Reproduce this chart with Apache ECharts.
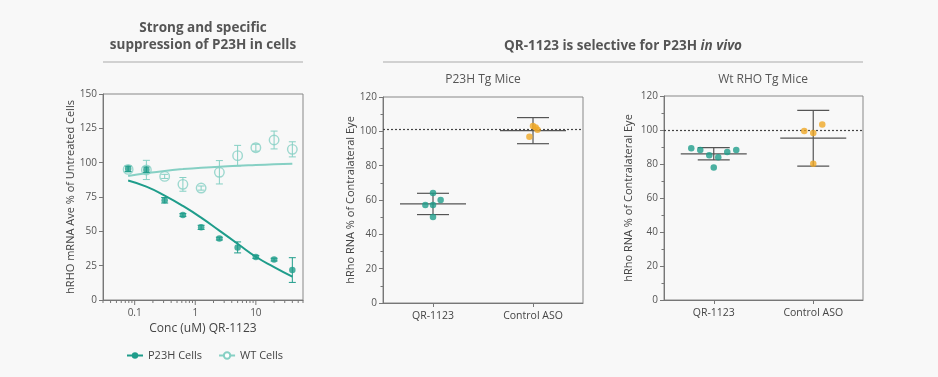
<!DOCTYPE html>
<html>
<head>
<meta charset="utf-8">
<script src="https://cdn.jsdelivr.net/npm/echarts@6/dist/echarts.min.js"></script>
<style>
    html, body { margin: 0; padding: 0; background: #f8f8f8; }
    #main { width: 938px; height: 377px; }
</style>
</head>
<body>
<div id="main"></div>
<script>
// left panel: dose response in cells
var concs = [0.078, 0.156, 0.3125, 0.625, 1.25, 2.5, 5, 10, 20, 40];
var p23hCells = [95.6, 94.9, 72.6, 61.9, 52.9, 44.7, 38.3, 31.3, 29.4, 21.8];
var p23hCellsSd = [2, 2, 2, 1, 1.5, 1, 4, 1, 1, 9];
var wtCells = [95.1, 94.7, 90.0, 84.2, 81.5, 93.0, 105.1, 110.9, 116.5, 109.7];
var wtCellsSd = [2, 7, 1.5, 5, 1.5, 8.5, 7.5, 2.5, 6.5, 5.5];
// fitted curves at each concentration
var p23hFit = [87, 82.5, 76, 68.5, 60, 50.5, 41, 31.5, 24, 17];
var wtFit = [90.3, 92.3, 94, 95.3, 96.3, 97, 97.8, 98.3, 98.8, 99.3];
var leftYTicks = [0, 150, 25];
var leftXMajor = [0.1, 1, 10];
var leftXMinorMult = [2, 3, 4, 5, 6, 7, 8, 9];

// mice panels
var groups = ['QR-1123', 'Control ASO'];
var p23hMiceQr = [64.1, 57.1, 57.1, 60.0, 50.1];
var p23hMiceQrSlot = [0, -0.85, 0, 0.85, 0];
var p23hMiceCtl = [103.1, 102.3, 100.9, 96.9];
var p23hMiceCtlSlot = [0, 0.3, 0.5, -0.4];
var p23hMiceMean = [57.7, 100.4];
var p23hMiceSd = [6.2, 7.6];
var wtMiceQr = [89.2, 88.2, 85.1, 83.9, 87.1, 88.2, 78.0];
var wtMiceQrSlot = [-2.5, -1.5, -0.5, 0.5, 1.5, 2.5, 0];
var wtMiceCtl = [99.4, 98.2, 103.3, 80.2];
var wtMiceCtlSlot = [-1, 0, 1, 0];
var wtMiceMean = [86, 95.2];
var wtMiceSd = [3.6, 16.4];
var refLines = [101, 100];

var TEAL = '#1f9d8b';
var TEAL_LIGHT = '#86d0c4';
var ORANGE = '#efa825';
var AXIS = '#777';
var TXT = '#555';
var FONT = 'Open Sans';
var SLOT_PX = 9;

var chart = echarts.init(document.getElementById('main'));

function pairs(xs, ys) {
    return xs.map(function (x, i) { return [x, ys[i]]; });
}

function errorBarRender(color, cap) {
    return function (params, api) {
        var x = api.value(0), m = api.value(1), s = api.value(2);
        var top = api.coord([x, m + s]);
        var bot = api.coord([x, m - s]);
        var st = { stroke: color, lineWidth: 1 };
        return {
            type: 'group',
            children: [
                { type: 'line', shape: { x1: top[0], y1: top[1], x2: bot[0], y2: bot[1] }, style: st },
                { type: 'line', shape: { x1: top[0] - cap, y1: top[1], x2: top[0] + cap, y2: top[1] }, style: st },
                { type: 'line', shape: { x1: bot[0] - cap, y1: bot[1], x2: bot[0] + cap, y2: bot[1] }, style: st }
            ]
        };
    };
}

function summaryRender(params, api) {
    var c = api.value(0), m = api.value(1), s = api.value(2);
    var mid = api.coord([c, m]);
    var top = api.coord([c, m + s]);
    var bot = api.coord([c, m - s]);
    var st = { stroke: '#555', lineWidth: 1.2 };
    return {
        type: 'group',
        children: [
            { type: 'line', shape: { x1: mid[0] - 33, y1: mid[1], x2: mid[0] + 33, y2: mid[1] }, style: st },
            { type: 'line', shape: { x1: top[0], y1: top[1], x2: bot[0], y2: bot[1] }, style: st },
            { type: 'line', shape: { x1: top[0] - 16, y1: top[1], x2: top[0] + 16, y2: top[1] }, style: st },
            { type: 'line', shape: { x1: bot[0] - 16, y1: bot[1], x2: bot[0] + 16, y2: bot[1] }, style: st }
        ]
    };
}

function jitterData(cat, vals, slots) {
    return vals.map(function (v, i) {
        return { value: [cat, v], symbolOffset: [slots[i] * SLOT_PX, 0] };
    });
}

// tick marks for the log axis (major + minor)
var logTicks = [];
leftXMajor.forEach(function (m) { logTicks.push([m, 0, 5]); });
[0.01, 0.1, 1, 10].forEach(function (d) {
    leftXMinorMult.forEach(function (k) {
        var v = +(k * d).toPrecision(3);
        if (v >= 0.03 && v <= 60) logTicks.push([v, 0, 3]);
    });
});

function yAxisCommon(grid, name, gap, min, max, interval, minor) {
    return {
        type: 'value', gridIndex: grid, min: min, max: max, interval: interval,
        name: name, nameLocation: 'middle', nameGap: gap, nameRotate: 90,
        nameTextStyle: { color: '#444', fontSize: 11, fontFamily: FONT },
        axisLine: { show: true, lineStyle: { color: AXIS } },
        axisTick: { show: true, length: 4, lineStyle: { color: AXIS } },
        minorTick: { show: minor, splitNumber: 2, length: 2.5, lineStyle: { color: AXIS } },
        axisLabel: { color: TXT, fontSize: 10, fontFamily: FONT, margin: 6 },
        splitLine: { show: false }
    };
}

function catAxis(grid) {
    return {
        type: 'category', gridIndex: grid, data: groups,
        axisLine: { show: true, lineStyle: { color: AXIS } },
        axisTick: { show: true, alignWithLabel: true, length: 4, lineStyle: { color: AXIS } },
        axisLabel: { color: '#444', fontSize: 10.5, fontFamily: FONT, margin: 8 },
        splitLine: { show: false }
    };
}

var gridBox = { show: true, borderColor: '#888', borderWidth: 1, backgroundColor: 'transparent' };

var option = {
    backgroundColor: '#f8f8f8',
    animation: false,
    title: [{
        text: 'Strong and specific\nsuppression of P23H in cells',
        left: 203, top: 20, textAlign: 'center', padding: 0,
        textStyle: { color: TXT, fontSize: 13.5, fontWeight: 'bold', fontFamily: FONT, lineHeight: 16.5 }
    }, {
        text: 'QR-1123 is selective for P23H {i|in vivo}',
        left: 623, top: 38, textAlign: 'center', padding: 0,
        textStyle: {
            color: TXT, fontSize: 13.5, fontWeight: 'bold', fontFamily: FONT, lineHeight: 17,
            rich: { i: { fontStyle: 'italic', fontWeight: 'bold', color: TXT, fontSize: 13.5, fontFamily: FONT } }
        }
    }, {
        text: 'P23H Tg Mice', left: 483, top: 72, textAlign: 'center', padding: 0,
        textStyle: { color: TXT, fontSize: 12, fontWeight: 'normal', fontFamily: FONT, lineHeight: 15 }
    }, {
        text: 'Wt RHO Tg Mice', left: 763, top: 72, textAlign: 'center', padding: 0,
        textStyle: { color: TXT, fontSize: 12, fontWeight: 'normal', fontFamily: FONT, lineHeight: 15 }
    }],
    graphic: [
        { type: 'line', shape: { x1: 103, y1: 62, x2: 303, y2: 62 }, style: { stroke: '#aaa', lineWidth: 1 } },
        { type: 'line', shape: { x1: 383, y1: 62, x2: 863, y2: 62 }, style: { stroke: '#aaa', lineWidth: 1 } }
    ],
    legend: {
        left: 121, top: 345, itemWidth: 16, itemHeight: 8, itemGap: 16,
        data: ['P23H Cells', 'WT Cells'],
        textStyle: { color: '#444', fontSize: 11, fontFamily: FONT }
    },
    grid: [
        Object.assign({ left: 103, top: 94, width: 200, height: 206 }, gridBox),
        Object.assign({ left: 383, top: 97, width: 200, height: 206 }, gridBox),
        Object.assign({ left: 664, top: 96, width: 199, height: 204 }, gridBox)
    ],
    xAxis: [{
        type: 'log', logBase: 10, gridIndex: 0, min: 0.03, max: 60,
        name: 'Conc (uM) QR-1123', nameLocation: 'middle', nameGap: 20,
        nameTextStyle: { color: '#444', fontSize: 12, fontFamily: FONT },
        axisLine: { show: true, lineStyle: { color: AXIS } },
        axisTick: { show: false },
        minorTick: { show: false },
        axisLabel: {
            color: TXT, fontSize: 10, fontFamily: FONT, margin: 8,
            formatter: function (v) {
                var l = Math.log10(v);
                return Math.abs(l - Math.round(l)) < 1e-6 ? String(+v.toPrecision(6)) : '';
            }
        },
        splitLine: { show: false }
    }, catAxis(1), catAxis(2)],
    yAxis: [
        yAxisCommon(0, 'hRHO mRNA Ave % of Untreated Cells', 27, leftYTicks[0], leftYTicks[1], leftYTicks[2], false),
        yAxisCommon(1, 'hRho RNA % of Contralateral Eye', 27, 0, 120, 20, true),
        yAxisCommon(2, 'hRho RNA % of Contralateral Eye', 30, 0, 120, 20, true)
    ],
    series: [
        // fitted curves (first, so the legend uses line icons)
        {
            name: 'P23H Cells', type: 'line', xAxisIndex: 0, yAxisIndex: 0,
            data: pairs(concs, p23hFit), smooth: true, showSymbol: false,
            symbol: 'circle', symbolSize: 6,
            lineStyle: { color: TEAL, width: 2 }, itemStyle: { color: TEAL }, z: 3
        },
        {
            name: 'WT Cells', type: 'line', xAxisIndex: 0, yAxisIndex: 0,
            data: pairs(concs, wtFit), smooth: true, showSymbol: false,
            symbol: 'emptyCircle', symbolSize: 8,
            lineStyle: { color: TEAL_LIGHT, width: 2 }, itemStyle: { color: TEAL_LIGHT }, z: 3
        },
        {
            type: 'custom', xAxisIndex: 0, yAxisIndex: 0, silent: true, z: 4,
            renderItem: errorBarRender(TEAL_LIGHT, 3.5),
            encode: { x: 0, y: 1 },
            data: concs.map(function (c, i) { return [c, wtCells[i], wtCellsSd[i]]; })
        },
        {
            type: 'custom', xAxisIndex: 0, yAxisIndex: 0, silent: true, z: 4,
            renderItem: errorBarRender(TEAL, 3.5),
            encode: { x: 0, y: 1 },
            data: concs.map(function (c, i) { return [c, p23hCells[i], p23hCellsSd[i]]; })
        },
        {
            name: 'WT Cells', type: 'scatter', xAxisIndex: 0, yAxisIndex: 0,
            data: pairs(concs, wtCells), symbol: 'circle', symbolSize: 9.5,
            itemStyle: { color: 'rgba(248,248,248,0)', borderColor: TEAL_LIGHT, borderWidth: 1.4 }, z: 5
        },
        {
            name: 'P23H Cells', type: 'scatter', xAxisIndex: 0, yAxisIndex: 0,
            data: pairs(concs, p23hCells), symbol: 'circle', symbolSize: 6.5,
            itemStyle: { color: TEAL }, z: 6
        },
        {
            type: 'custom', xAxisIndex: 0, yAxisIndex: 0, silent: true, z: 6,
            encode: { x: 0, y: 1 },
            renderItem: function (params, api) {
                var p = api.coord([api.value(0), 0]);
                return {
                    type: 'line',
                    shape: { x1: p[0], y1: p[1], x2: p[0], y2: p[1] + api.value(2) },
                    style: { stroke: AXIS, lineWidth: 1 }
                };
            },
            data: logTicks
        },
        // P23H Tg mice
        {
            type: 'custom', xAxisIndex: 1, yAxisIndex: 1, silent: true, z: 3,
            renderItem: summaryRender, encode: { x: 0, y: 1 },
            data: groups.map(function (g, i) { return [i, p23hMiceMean[i], p23hMiceSd[i]]; })
        },
        {
            type: 'scatter', xAxisIndex: 1, yAxisIndex: 1, symbolSize: 6.5,
            itemStyle: { color: TEAL }, z: 5,
            data: jitterData(0, p23hMiceQr, p23hMiceQrSlot),
            markLine: {
                silent: true, symbol: ['none', 'none'], label: { show: false },
                lineStyle: { type: [2, 2], color: '#444', width: 1.2 },
                data: [{ yAxis: refLines[0] }]
            }
        },
        {
            type: 'scatter', xAxisIndex: 1, yAxisIndex: 1, symbolSize: 6.5,
            itemStyle: { color: ORANGE }, z: 5,
            data: jitterData(1, p23hMiceCtl, p23hMiceCtlSlot)
        },
        // Wt RHO Tg mice
        {
            type: 'custom', xAxisIndex: 2, yAxisIndex: 2, silent: true, z: 3,
            renderItem: summaryRender, encode: { x: 0, y: 1 },
            data: groups.map(function (g, i) { return [i, wtMiceMean[i], wtMiceSd[i]]; })
        },
        {
            type: 'scatter', xAxisIndex: 2, yAxisIndex: 2, symbolSize: 6.5,
            itemStyle: { color: TEAL }, z: 5,
            data: jitterData(0, wtMiceQr, wtMiceQrSlot),
            markLine: {
                silent: true, symbol: ['none', 'none'], label: { show: false },
                lineStyle: { type: [2, 2], color: '#444', width: 1.2 },
                data: [{ yAxis: refLines[1] }]
            }
        },
        {
            type: 'scatter', xAxisIndex: 2, yAxisIndex: 2, symbolSize: 6.5,
            itemStyle: { color: ORANGE }, z: 5,
            data: jitterData(1, wtMiceCtl, wtMiceCtlSlot)
        }
    ]
};

chart.setOption(option);
</script>
</body>
</html>
